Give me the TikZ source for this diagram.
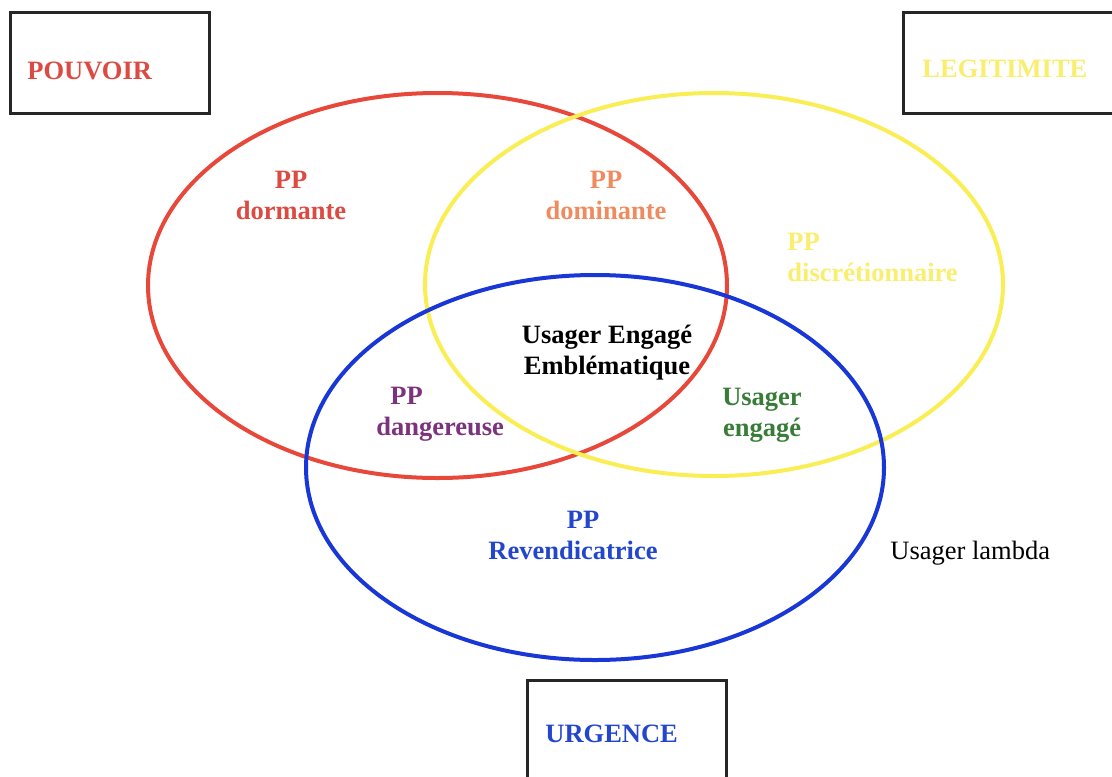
\documentclass[tikz,border=0pt]{standalone}
\usepackage{fontspec}
\setmainfont{Liberation Serif}
\definecolor{rouge}{RGB}{232,72,58}
\definecolor{rougetxt}{RGB}{220,75,65}
\definecolor{jaune}{RGB}{250,238,85}
\definecolor{jaunetxt}{RGB}{250,238,110}
\definecolor{bleu}{RGB}{25,55,215}
\definecolor{bleutxt}{RGB}{35,70,205}
\definecolor{orangetxt}{RGB}{238,140,95}
\definecolor{violettxt}{RGB}{125,50,125}
\definecolor{verttxt}{RGB}{55,125,55}
\tikzstyle{cadre} = [line width=1.5pt, draw=black!85]
\tikzstyle{attribut} = [line width=2pt]
\tikzstyle{titre} = [font=\bfseries\fontsize{13.25}{15.5}\selectfont, inner sep=0pt, anchor=west]
\tikzstyle{zone} = [font=\bfseries\fontsize{13.25}{15.5}\selectfont, inner sep=0pt, align=center]
\tikzstyle{zonegauche} = [zone, align=left, anchor=west]
\begin{document}
\begin{tikzpicture}[x=0.5pt, y=-0.5pt]
	\useasboundingbox (0,0) rectangle (1112,776);
	\fill [white] (0,0) rectangle (1112,776);
	% cadres des attributs
	\draw [cadre] (10,12) rectangle (209,113);
	\draw [cadre] (1120,12) -- (903,12) -- (903,113) -- (1120,113);
	\draw [cadre] (527,790) -- (527,680) -- (726,680) -- (726,790);
	\node (pouvoir) [titre, text=rougetxt] at (27,70.5) {POUVOIR};
	\node (legitimite) [titre, text=jaunetxt] at (922,68.5) {LEGITIMITE};
	\node (urgence) [titre, text=bleutxt] at (545,734) {URGENCE};
	% ellipses
	\draw [attribut, draw=rouge] (437.5,285.5) ellipse [x radius=289.5, y radius=192.5];
	\draw [attribut, draw=jaune] (714,284.5) ellipse [x radius=289, y radius=191.5];
	\draw [attribut, draw=bleu] (595,467.5) ellipse [x radius=289, y radius=192.5];
	% zones
	\node (dormante) [zone, text=rougetxt] at (291,195.5) {PP\\dormante};
	\node (dominante) [zone, text=orangetxt] at (606,195.5) {PP\\dominante};
	\node (discretionnaire) [zonegauche, text=jaunetxt] at (787,257.5) {PP\\discrétionnaire};
	\node (emblematique) [zone, text=black] at (607,353) {Usager Engagé\\Emblématique};
	\node (dangereuse) [zonegauche, text=violettxt] at (376,414.5) {\hspace*{7pt}PP\\dangereuse};
	\node (engage) [zone, text=verttxt] at (762,415.5) {Usager\\engagé};
	\node (revendicatrice) [zone, text=bleutxt] at (573,535.5) {\hspace*{10pt}PP\\Revendicatrice};
	\node (lambda) [titre, font=\fontsize{13.25}{15.5}\selectfont] at (890,553) {Usager lambda};
\end{tikzpicture}
\end{document}
